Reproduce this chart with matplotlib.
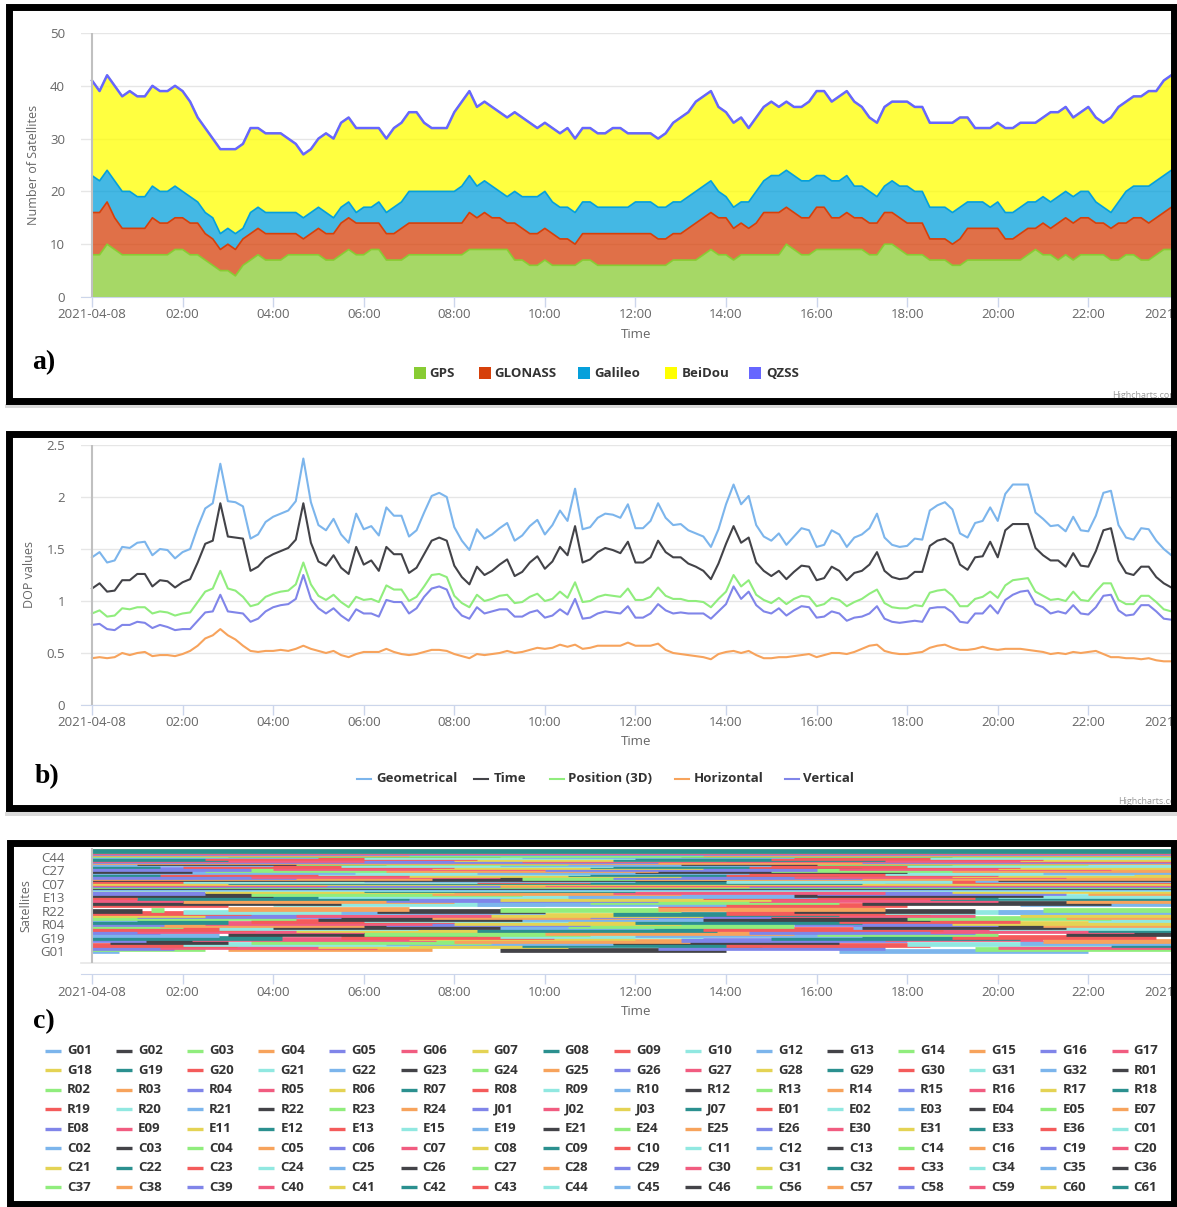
import numpy as np
import matplotlib
matplotlib.use("Agg")
import matplotlib.pyplot as plt
from matplotlib.patches import Rectangle
from matplotlib.lines import Line2D

plt.rcParams['font.family'] = ['Open Sans', 'DejaVu Sans']

# ---------------- data (10 min samples from 2021-04-08 00:00) ----------------
# panel a: number of visible satellites per system
gps = [8, 8, 10, 9, 8, 8, 8, 8, 8, 8,
       8, 9, 9, 8, 8, 7, 6, 5, 5, 4,
       6, 7, 8, 7, 7, 7, 8, 8, 8, 8,
       8, 7, 7, 8, 9, 8, 8, 9, 9, 7,
       7, 7, 8, 8, 8, 8, 8, 8, 8, 8,
       9, 9, 9, 9, 9, 9, 7, 7, 6, 6,
       7, 6, 6, 6, 6, 7, 7, 6, 6, 6,
       6, 6, 6, 6, 6, 6, 6, 7, 7, 7,
       7, 8, 9, 8, 8, 7, 8, 8, 8, 8,
       8, 8, 10, 9, 8, 8, 9, 9, 9, 9,
       9, 9, 9, 8, 8, 10, 10, 9, 8, 8,
       8, 7, 7, 7, 6, 6, 7, 7, 7, 7,
       7, 7, 7, 7, 8, 9, 8, 8, 7, 8,
       7, 8, 8, 8, 8, 7, 7, 8, 8, 7,
       7, 8, 9, 9]
glonass = [8, 8, 8, 6, 5, 5, 5, 5, 7, 6,
           6, 6, 6, 6, 6, 5, 5, 4, 5, 5,
           5, 5, 5, 5, 5, 5, 4, 4, 3, 4,
           5, 5, 5, 6, 6, 6, 6, 5, 5, 5,
           5, 6, 6, 6, 6, 6, 6, 6, 6, 6,
           7, 6, 7, 6, 6, 5, 7, 6, 6, 6,
           6, 6, 5, 5, 4, 5, 5, 6, 6, 6,
           6, 6, 6, 6, 6, 5, 5, 5, 5, 6,
           7, 7, 7, 7, 7, 6, 6, 5, 6, 8,
           8, 8, 7, 7, 7, 7, 8, 8, 6, 6,
           7, 6, 6, 6, 6, 6, 6, 6, 6, 6,
           6, 4, 4, 4, 4, 5, 6, 6, 6, 6,
           6, 4, 4, 5, 5, 4, 6, 5, 7, 7,
           7, 7, 7, 6, 6, 6, 7, 6, 7, 8,
           7, 7, 7, 8]
galileo = [7, 6, 6, 7, 7, 7, 6, 6, 6, 6,
           6, 6, 5, 5, 4, 4, 4, 3, 3, 3,
           2, 4, 4, 4, 4, 4, 4, 4, 4, 4,
           4, 4, 3, 3, 3, 2, 3, 3, 4, 4,
           5, 5, 6, 6, 6, 6, 6, 6, 6, 7,
           7, 6, 6, 6, 5, 5, 6, 6, 7, 7,
           7, 6, 6, 6, 6, 6, 6, 5, 5, 5,
           5, 5, 6, 6, 6, 6, 6, 6, 6, 6,
           6, 6, 6, 5, 4, 4, 4, 5, 6, 6,
           7, 7, 7, 7, 7, 7, 6, 6, 7, 7,
           7, 6, 6, 6, 5, 5, 6, 6, 7, 6,
           6, 6, 6, 6, 6, 6, 5, 5, 5, 4,
           5, 5, 5, 5, 5, 5, 5, 5, 5, 5,
           5, 5, 5, 4, 3, 3, 4, 6, 6, 6,
           7, 7, 7, 7]
beidou = [18, 17, 18, 18, 18, 19, 19, 19, 19, 19,
          19, 19, 19, 18, 16, 16, 15, 16, 15, 16,
          16, 16, 15, 15, 15, 15, 14, 13, 12, 12,
          13, 15, 15, 16, 16, 16, 15, 15, 14, 14,
          15, 15, 15, 15, 13, 12, 12, 12, 15, 16,
          16, 15, 15, 15, 15, 15, 15, 15, 14, 13,
          13, 14, 14, 15, 14, 14, 14, 14, 14, 15,
          15, 14, 13, 13, 13, 13, 14, 15, 16, 16,
          17, 17, 17, 16, 16, 16, 16, 14, 14, 14,
          14, 13, 13, 13, 14, 15, 16, 16, 15, 16,
          16, 16, 15, 14, 14, 15, 15, 16, 16, 16,
          16, 16, 16, 16, 17, 17, 16, 14, 14, 15,
          15, 16, 16, 16, 15, 15, 15, 17, 16, 16,
          15, 15, 16, 16, 16, 18, 18, 17, 17, 17,
          18, 17, 18, 18]
qzss = [0] * len(gps)

# panel b: DOP values
gdop = [1.42, 1.47, 1.37, 1.39, 1.52, 1.51, 1.56, 1.57, 1.44, 1.50,
        1.49, 1.41, 1.47, 1.50, 1.71, 1.89, 1.94, 2.32, 1.96, 1.95,
        1.91, 1.60, 1.64, 1.76, 1.81, 1.84, 1.87, 1.96, 2.37, 1.95,
        1.73, 1.68, 1.79, 1.64, 1.56, 1.84, 1.69, 1.72, 1.63, 1.90,
        1.82, 1.82, 1.62, 1.68, 1.85, 2.01, 2.04, 2.00, 1.71, 1.58,
        1.49, 1.69, 1.60, 1.64, 1.70, 1.75, 1.58, 1.63, 1.72, 1.78,
        1.64, 1.73, 1.87, 1.77, 2.08, 1.69, 1.71, 1.80, 1.84, 1.83,
        1.80, 1.93, 1.70, 1.70, 1.77, 1.94, 1.80, 1.73, 1.74, 1.68,
        1.65, 1.62, 1.52, 1.69, 1.93, 2.12, 1.93, 2.01, 1.73, 1.62,
        1.58, 1.65, 1.54, 1.62, 1.70, 1.68, 1.52, 1.54, 1.68, 1.64,
        1.52, 1.61, 1.64, 1.70, 1.84, 1.61, 1.54, 1.52, 1.53, 1.60,
        1.59, 1.87, 1.92, 1.95, 1.88, 1.65, 1.61, 1.75, 1.77, 1.90,
        1.77, 2.03, 2.12, 2.12, 2.12, 1.85, 1.79, 1.72, 1.73, 1.67,
        1.81, 1.68, 1.67, 1.82, 2.04, 2.06, 1.73, 1.61, 1.59, 1.70,
        1.69, 1.58, 1.50, 1.44]
tdop = [1.12, 1.17, 1.09, 1.10, 1.20, 1.20, 1.26, 1.26, 1.14, 1.20,
        1.19, 1.13, 1.18, 1.21, 1.37, 1.55, 1.58, 1.94, 1.62, 1.61,
        1.60, 1.29, 1.33, 1.41, 1.45, 1.48, 1.51, 1.59, 1.94, 1.56,
        1.38, 1.34, 1.44, 1.32, 1.26, 1.52, 1.35, 1.39, 1.29, 1.52,
        1.45, 1.45, 1.27, 1.32, 1.45, 1.58, 1.61, 1.58, 1.34, 1.23,
        1.16, 1.33, 1.25, 1.29, 1.35, 1.40, 1.24, 1.28, 1.37, 1.43,
        1.31, 1.38, 1.52, 1.44, 1.72, 1.37, 1.40, 1.47, 1.51, 1.49,
        1.46, 1.57, 1.37, 1.37, 1.42, 1.58, 1.47, 1.42, 1.42, 1.36,
        1.33, 1.29, 1.21, 1.36, 1.55, 1.72, 1.56, 1.61, 1.37, 1.29,
        1.24, 1.29, 1.21, 1.28, 1.34, 1.33, 1.20, 1.22, 1.33, 1.29,
        1.20, 1.27, 1.29, 1.35, 1.47, 1.29, 1.23, 1.21, 1.22, 1.28,
        1.28, 1.53, 1.58, 1.60, 1.55, 1.35, 1.30, 1.42, 1.43, 1.57,
        1.42, 1.68, 1.74, 1.74, 1.74, 1.51, 1.44, 1.39, 1.39, 1.33,
        1.46, 1.34, 1.33, 1.48, 1.68, 1.70, 1.39, 1.27, 1.25, 1.33,
        1.33, 1.23, 1.17, 1.13]
pdop = [0.88, 0.91, 0.85, 0.86, 0.93, 0.92, 0.94, 0.94, 0.88, 0.90,
        0.89, 0.86, 0.88, 0.89, 0.99, 1.09, 1.12, 1.29, 1.12, 1.10,
        1.04, 0.95, 0.97, 1.04, 1.07, 1.09, 1.10, 1.16, 1.37, 1.16,
        1.05, 1.01, 1.06, 0.99, 0.94, 1.04, 1.01, 1.02, 0.99, 1.15,
        1.11, 1.11, 1.00, 1.04, 1.14, 1.25, 1.26, 1.23, 1.05, 0.98,
        0.94, 1.06, 1.00, 1.02, 1.05, 1.06, 0.98, 0.99, 1.04, 1.07,
        1.00, 1.02, 1.09, 1.03, 1.18, 0.99, 1.00, 1.04, 1.06, 1.05,
        1.04, 1.12, 1.01, 1.01, 1.04, 1.13, 1.05, 1.02, 1.02, 1.00,
        1.00, 0.99, 0.94, 1.02, 1.09, 1.25, 1.14, 1.20, 1.06, 1.01,
        0.98, 1.03, 0.97, 1.02, 1.05, 1.04, 0.95, 0.97, 1.03, 1.01,
        0.95, 0.99, 1.02, 1.07, 1.11, 0.98, 0.94, 0.93, 0.93, 0.96,
        0.95, 1.08, 1.10, 1.11, 1.05, 0.95, 0.95, 1.02, 1.04, 1.09,
        1.03, 1.15, 1.20, 1.21, 1.22, 1.09, 1.05, 1.01, 1.02, 1.00,
        1.09, 1.01, 1.00, 1.09, 1.17, 1.17, 1.01, 0.97, 0.97, 1.05,
        1.05, 0.99, 0.92, 0.90]
hdop = [0.45, 0.46, 0.45, 0.46, 0.50, 0.48, 0.50, 0.51, 0.47, 0.48,
        0.48, 0.47, 0.49, 0.52, 0.57, 0.64, 0.67, 0.73, 0.67, 0.63,
        0.57, 0.52, 0.51, 0.52, 0.52, 0.53, 0.52, 0.54, 0.57, 0.54,
        0.52, 0.50, 0.52, 0.48, 0.46, 0.49, 0.51, 0.51, 0.51, 0.54,
        0.51, 0.49, 0.48, 0.49, 0.51, 0.53, 0.53, 0.52, 0.49, 0.47,
        0.45, 0.49, 0.48, 0.49, 0.50, 0.52, 0.50, 0.51, 0.53, 0.55,
        0.54, 0.55, 0.58, 0.56, 0.58, 0.54, 0.55, 0.57, 0.57, 0.57,
        0.57, 0.60, 0.57, 0.57, 0.57, 0.59, 0.53, 0.50, 0.49, 0.48,
        0.47, 0.46, 0.44, 0.49, 0.51, 0.52, 0.50, 0.52, 0.48, 0.45,
        0.45, 0.46, 0.46, 0.47, 0.48, 0.49, 0.46, 0.48, 0.50, 0.50,
        0.49, 0.51, 0.54, 0.57, 0.58, 0.52, 0.50, 0.49, 0.49, 0.50,
        0.51, 0.55, 0.57, 0.58, 0.55, 0.53, 0.53, 0.54, 0.56, 0.54,
        0.53, 0.54, 0.54, 0.54, 0.53, 0.52, 0.51, 0.49, 0.50, 0.49,
        0.51, 0.50, 0.51, 0.52, 0.49, 0.46, 0.46, 0.45, 0.45, 0.44,
        0.45, 0.43, 0.42, 0.42]
vdop = [0.77, 0.78, 0.73, 0.72, 0.77, 0.77, 0.80, 0.79, 0.74, 0.77,
        0.75, 0.72, 0.73, 0.73, 0.81, 0.89, 0.90, 1.06, 0.90, 0.89,
        0.88, 0.80, 0.83, 0.90, 0.94, 0.96, 0.97, 1.02, 1.25, 1.02,
        0.93, 0.88, 0.93, 0.86, 0.81, 0.92, 0.88, 0.88, 0.85, 1.01,
        0.99, 0.99, 0.88, 0.93, 1.04, 1.12, 1.14, 1.11, 0.94, 0.86,
        0.83, 0.94, 0.88, 0.90, 0.92, 0.92, 0.85, 0.85, 0.89, 0.91,
        0.84, 0.86, 0.92, 0.87, 1.02, 0.83, 0.84, 0.88, 0.90, 0.89,
        0.88, 0.95, 0.84, 0.84, 0.88, 0.97, 0.91, 0.88, 0.89, 0.88,
        0.88, 0.88, 0.83, 0.90, 0.97, 1.14, 1.02, 1.09, 0.96, 0.90,
        0.88, 0.93, 0.86, 0.91, 0.95, 0.94, 0.84, 0.85, 0.90, 0.88,
        0.81, 0.84, 0.85, 0.88, 0.95, 0.83, 0.80, 0.79, 0.80, 0.81,
        0.80, 0.93, 0.94, 0.94, 0.89, 0.80, 0.79, 0.88, 0.88, 0.96,
        0.88, 1.01, 1.06, 1.09, 1.10, 0.97, 0.94, 0.88, 0.90, 0.88,
        0.96, 0.88, 0.87, 0.94, 1.05, 1.06, 0.91, 0.86, 0.87, 0.96,
        0.96, 0.90, 0.83, 0.82]

# panel c: satellite visibility passes (hours after 2021-04-08 00:00)
gps_sats = ['G01', 'G02', 'G03', 'G04', 'G05', 'G06', 'G07', 'G08', 'G09', 'G10',
            'G12', 'G13', 'G14', 'G15', 'G16', 'G17', 'G18', 'G19', 'G20', 'G21',
            'G22', 'G23', 'G24', 'G25', 'G26', 'G27', 'G28', 'G29', 'G30', 'G31', 'G32']
gps_passes = [[(0, 0.6), (16.5, 22.0)], [(9.0, 14.0)], [(0, 2.5), (19.5, 24.4)],
              [(3.0, 7.5)], [(0, 1.8), (12.5, 17.5)], [(1.5, 6.3), (20.0, 24.4)],
              [(5.0, 10.5)], [(9.5, 14.8), (22.5, 24.4)], [(0, 3.2), (14.0, 18.5)],
              [(2.0, 7.0), (18.0, 22.5)], [(6.5, 11.5), (20.5, 24.4)],
              [(0.4, 3.0), (11.5, 16.5)], [(3.5, 8.8)], [(8.0, 13.2), (21.0, 24.4)],
              [(0, 1.2), (13.0, 18.0)], [(2.2, 7.6), (17.5, 21.0)], [(7.0, 12.0)],
              [(0, 4.2), (15.0, 20.5)], [(5.5, 10.2), (19.0, 23.5)], [(9.0, 13.5)],
              [(0, 2.8), (12.0, 17.0)], [(3.0, 8.5), (21.5, 24.4)],
              [(6.0, 11.0), (16.0, 20.0)], [(10.0, 15.5)], [(0, 1.5), (14.5, 19.5)],
              [(1.0, 6.0), (18.5, 23.0)], [(4.5, 9.8)], [(8.5, 13.8), (22.0, 24.4)],
              [(0, 3.6), (13.5, 18.8)], [(2.8, 7.2), (19.8, 24.4)],
              [(6.8, 12.4), (16.8, 21.2)]]
glo_sats = ['R01', 'R02', 'R03', 'R04', 'R05', 'R06', 'R07', 'R08', 'R09', 'R10',
            'R12', 'R13', 'R14', 'R15', 'R16', 'R17', 'R18', 'R19', 'R20', 'R21',
            'R22', 'R23', 'R24']
glo_passes = [[(4.0, 9.0), (17.0, 21.5)], [(0, 2.0), (10.5, 15.5)],
              [(1.5, 6.0), (21.0, 24.4)], [(0, 1.6), (6.5, 11.0), (15.5, 20.0)],
              [(2.5, 7.5)], [(8.0, 13.0), (19.0, 24.0)], [(0, 3.0), (12.0, 17.0)],
              [(3.5, 8.0), (16.5, 20.5)], [(6.0, 10.5), (22.0, 24.4)],
              [(0, 1.0), (9.5, 14.5)], [(5.0, 9.5), (13.5, 18.5)],
              [(0, 4.5), (18.0, 22.5)], [(7.5, 12.5), (21.5, 24.4)],
              [(1.0, 5.5), (11.0, 15.0)], [(4.5, 9.0), (15.0, 19.5)],
              [(0, 2.5), (8.8, 13.5), (20.5, 24.4)], [(11.5, 16.5)],
              [(0, 3.5), (14.0, 18.5)], [(2.0, 6.8), (17.5, 22.0)],
              [(5.5, 10.0), (20.0, 24.4)], [(0, 1.1), (6.3, 10.0), (15.5, 19.5)],
              [(1.3, 1.6), (9.0, 13.0), (21.0, 24.4)], [(3.0, 7.0), (12.5, 17.5)]]
qzs_sats = ['J01', 'J02', 'J03', 'J07']
qzs_passes = [[], [], [], []]
gal_sats = ['E01', 'E02', 'E03', 'E04', 'E05', 'E07', 'E08', 'E09', 'E11', 'E12',
            'E13', 'E15', 'E19', 'E21', 'E24', 'E25', 'E26', 'E30', 'E31', 'E33', 'E36']
gal_passes = [[(0, 3.0), (12.5, 18.0)], [(4.0, 10.0)], [(8.5, 14.0), (20.5, 24.4)],
              [(0, 5.5), (17.0, 22.5)], [(11.0, 16.5)], [(2.0, 8.0), (21.5, 24.4)],
              [(6.5, 12.5)], [(0, 2.0), (14.5, 20.0)], [(9.0, 15.0)],
              [(1.0, 7.0), (18.5, 24.0)], [(0, 1.0), (13.5, 19.5)],
              [(5.0, 11.0), (20.0, 24.4)], [(10.5, 16.0)], [(0, 4.0), (15.5, 21.0)],
              [(3.5, 9.5)], [(7.5, 13.0), (22.0, 24.4)], [(0, 2.5), (16.0, 21.5)],
              [(11.5, 17.5)], [(2.5, 8.0), (19.0, 24.4)], [(6.0, 12.0)],
              [(0, 3.5), (13.0, 18.5)]]
bds_sats = ['C01', 'C02', 'C03', 'C04', 'C05', 'C06', 'C07', 'C08', 'C09', 'C10',
            'C11', 'C12', 'C13', 'C14', 'C16', 'C19', 'C20', 'C21', 'C22', 'C23',
            'C24', 'C25', 'C26', 'C27', 'C28', 'C29', 'C30', 'C31', 'C32', 'C33',
            'C34', 'C35', 'C36', 'C37', 'C38', 'C39', 'C40', 'C41', 'C42', 'C43',
            'C44', 'C45', 'C46', 'C56', 'C57', 'C58', 'C59', 'C60', 'C61']
bds_passes = [[(0, 24.4)], [(0, 24.4)], [(0, 24.4)], [(0, 24.4)], [(0, 24.4)],
              [(0, 9.0), (14.5, 24.4)], [(0, 5.2), (10.0, 24.4)], [(0, 24.4)],
              [(3.0, 17.0)], [(0, 11.0), (17.5, 24.4)], [(2.0, 8.5), (14.0, 19.0)],
              [(6.0, 12.0), (19.5, 24.4)], [(0, 14.0), (20.0, 24.4)], [(9.5, 15.0)],
              [(0, 7.5), (12.0, 24.4)], [(0, 4.5), (11.5, 17.0)],
              [(3.5, 9.0), (15.5, 21.5)], [(7.0, 13.0), (19.0, 24.4)],
              [(0, 2.8), (10.5, 16.5)], [(1.5, 7.0), (14.0, 20.0)],
              [(5.0, 11.0), (17.5, 23.0)], [(0, 5.8), (8.5, 14.5), (21.0, 24.4)],
              [(0, 2.2), (12.0, 18.0)], [(2.5, 8.5), (15.0, 21.0)],
              [(6.5, 12.5), (19.0, 24.4)], [(0, 3.5), (10.0, 16.0)],
              [(4.0, 10.0), (16.5, 22.5)], [(7.5, 13.5), (20.0, 24.4)],
              [(0, 1.5), (11.0, 17.0)], [(2.0, 8.0), (14.5, 20.5)],
              [(5.5, 11.5), (18.0, 24.0)], [(0, 4.0), (9.0, 15.0)],
              [(1.0, 6.5), (13.0, 19.0)], [(4.5, 10.5), (16.0, 22.0)], [(0, 24.4)],
              [(0, 12.5), (17.0, 24.4)], [(0, 6.0), (9.5, 24.4)],
              [(8.0, 14.0), (20.5, 24.4)], [(0, 3.0), (11.5, 17.5)],
              [(2.5, 8.5), (15.0, 21.0)], [(6.0, 12.0), (18.5, 24.4)],
              [(0, 5.0), (9.5, 15.5)], [(3.0, 9.0), (13.0, 19.0)], [(0, 24.4)],
              [(0, 7.0), (13.5, 24.4)], [(0, 24.4)], [(0, 24.4)], [(0, 24.4)],
              [(0, 24.4)]]

sat_names = gps_sats + glo_sats + qzs_sats + gal_sats + bds_sats
sat_passes = gps_passes + glo_passes + qzs_passes + gal_passes + bds_passes

system_names = ['GPS', 'GLONASS', 'Galileo', 'BeiDou', 'QZSS']
system_colors = ['#88cc33', '#d6400a', '#05a0db', '#ffff00', '#6666ff']
dop_names = ['Geometrical', 'Time', 'Position (3D)', 'Horizontal', 'Vertical']
dop_colors = ['#7cb5ec', '#434348', '#90ed7d', '#f7a35c', '#8085e9']
hc_colors = ['#7cb5ec', '#434348', '#90ed7d', '#f7a35c', '#8085e9',
             '#f15c80', '#e4d354', '#2b908f', '#f45b5b', '#91e8e1']
tick_hours = list(range(0, 25, 2))
tick_labels = ['2021-04-08', '02:00', '04:00', '06:00', '08:00', '10:00', '12:00',
               '14:00', '16:00', '18:00', '20:00', '22:00', '2021-04-09']

t = np.arange(len(gps)) / 6.0

# ---------------- layout helpers (pixel coordinates, origin top-left) ----------------
W, H = 1177, 1207
fig = plt.figure(figsize=(W / 100, H / 100), dpi=100)
fig.patch.set_facecolor('white')


def px_axes(x0, y0, x1, y1):
    return fig.add_axes([x0 / W, 1 - y1 / H, (x1 - x0) / W, (y1 - y0) / H])


def ftext(x, y, s, **kw):
    return fig.text(x / W, 1 - y / H, s, **kw)


def frame(x0, y0, x1, y1):
    fig.add_artist(Rectangle((x0 / W, 1 - y1 / H), (x1 - x0) / W, (y1 - y0) / H,
                             transform=fig.transFigure, fill=False, ec='black',
                             lw=5, zorder=10))


def shadow(x0, y0, x1, y1):
    fig.add_artist(Rectangle((x0 / W, 1 - y1 / H), (x1 - x0) / W, (y1 - y0) / H,
                             transform=fig.transFigure, fc='#dadada', ec='none',
                             zorder=9))


def time_axis(ax, bottom):
    ax.set_xlim(-0.243, 24.4)
    ax.set_xticks(tick_hours)
    ax.set_xticklabels(tick_labels)
    for s in ['top', 'right', 'left']:
        ax.spines[s].set_visible(False)
    ax.spines['bottom'].set_color('#ccd6eb')
    ax.tick_params(axis='x', length=7.2, width=1, color='#ccd6eb',
                   labelcolor='#666666', labelsize=9.5, pad=1)
    ax.tick_params(axis='y', length=0, labelcolor='#666666', labelsize=9.5, pad=11.5)
    ax.vlines(0, bottom, ax.get_ylim()[1], color='#c0c0c0', lw=1.5, zorder=5)


# ---------------- panel a ----------------
ax_a = px_axes(81, 33, 1197, 297)
ax_a.set_ylim(0, 50)
ax_a.set_yticks(range(0, 51, 10))
ax_a.yaxis.grid(True, color='#e6e6e6', lw=1)
ax_a.set_axisbelow(True)
series = [gps, glonass, galileo, beidou, qzss]
ax_a.stackplot(t, *series, colors=system_colors, alpha=0.75, lw=0)
tops = np.cumsum(np.array(series), axis=0)
for k in range(5):
    ax_a.plot(t, tops[k], color=system_colors[k], lw=1.2 if k < 4 else 1.8)
time_axis(ax_a, 0)
ax_a.set_ylabel('Number of Satellites', color='#666666', fontsize=9)
ax_a.yaxis.set_label_coords((40 - 81) / 1116, 0.5)
ftext(636, 334, 'Time', ha='center', va='center', color='#666666', fontsize=9.5)
ftext(32, 363, 'a)', family='Liberation Serif', weight='bold', fontsize=20,
      va='center', color='black')
legend_a = [(414, 429), (479, 494), (578, 594), (665, 682), (749, 766)]
for (sx, tx), name, col in zip(legend_a, system_names, system_colors):
    fig.add_artist(Rectangle((sx / W, 1 - 379.5 / H), 12 / W, 12 / H,
                             transform=fig.transFigure, fc=col, ec='none'))
    ftext(tx, 373.5, name, weight='bold', fontsize=9.5, color='#333333', va='center')
ftext(1112, 396, 'Highcharts.com', fontsize=6.5, color='#999999', va='center')

# ---------------- panel b ----------------
ax_b = px_axes(81, 445, 1197, 705)
ax_b.set_ylim(0, 2.5)
ax_b.set_yticks([0, 0.5, 1, 1.5, 2, 2.5])
ax_b.set_yticklabels(['0', '0.5', '1', '1.5', '2', '2.5'])
ax_b.yaxis.grid(True, color='#e6e6e6', lw=1)
ax_b.set_axisbelow(True)
for vals, col in zip([gdop, tdop, pdop, hdop, vdop], dop_colors):
    ax_b.plot(t, vals, color=col, lw=1.5)
time_axis(ax_b, 0)
ax_b.set_ylabel('DOP values', color='#666666', fontsize=9)
ax_b.yaxis.set_label_coords((36 - 81) / 1116, 0.5)
ftext(636, 741.5, 'Time', ha='center', va='center', color='#666666', fontsize=9.5)
ftext(35, 777, 'b)', family='Liberation Serif', weight='bold', fontsize=20,
      va='center', color='black')
legend_b = [(357, 376), (474, 494), (550, 568), (675, 694), (785, 803)]
for (lx, tx), name, col in zip(legend_b, dop_names, dop_colors):
    fig.add_artist(Line2D([lx / W, (lx + 14) / W], [1 - 779 / H] * 2, color=col,
                          lw=1.5, transform=fig.transFigure))
    ftext(tx, 779, name, weight='bold', fontsize=9.5, color='#333333', va='center')
ftext(1118, 801, 'Highcharts.com', fontsize=6.5, color='#999999', va='center')

# ---------------- panel c ----------------
ax_c = px_axes(81, 848, 1197, 963)
ax_c.set_ylim(-15.2, 130.4)
for i, passes in enumerate(sat_passes):
    for s, e in passes:
        ax_c.hlines(i, s, e, color=hc_colors[i % 10], lw=3.4, capstyle='butt')
ax_c.set_yticks(range(0, 120, 17))
ax_c.set_yticklabels(sat_names[0:120:17])
ax_c.axhline(-15.2, color='#e6e6e6', lw=1.2, clip_on=False)
time_axis(ax_c, -15.2)
ax_c.spines['bottom'].set_position(('outward', 8))
ax_c.set_ylabel('Satellites', color='#666666', fontsize=9)
ax_c.yaxis.set_label_coords((32 - 81) / 1116, 0.5)
ftext(636, 1011.5, 'Time', ha='center', va='center', color='#666666', fontsize=9.5)
ftext(33, 1022, 'c)', family='Liberation Serif', weight='bold', fontsize=20,
      va='center', color='black')
for k, name in enumerate(sat_names):
    r, c = divmod(k, 16)
    x = 45 + c * 71.1
    y = 1050.7 + r * 19.5
    fig.add_artist(Line2D([x / W, (x + 16) / W], [1 - y / H] * 2,
                          color=hc_colors[k % 10], lw=2.4, solid_capstyle='butt',
                          transform=fig.transFigure))
    ftext(x + 22, y, name, weight='bold', fontsize=9.5, color='#333333', va='center')

# ---------------- frames ----------------
shadow(5, 404, 1177, 408)
shadow(5, 812, 1177, 816)
frame(8.5, 6.5, 1173.5, 400.5)
frame(9, 434, 1173.5, 807.5)
frame(9.5, 843, 1173.5, 1203.5)

fig.savefig('out.png', dpi=100, facecolor='white')
